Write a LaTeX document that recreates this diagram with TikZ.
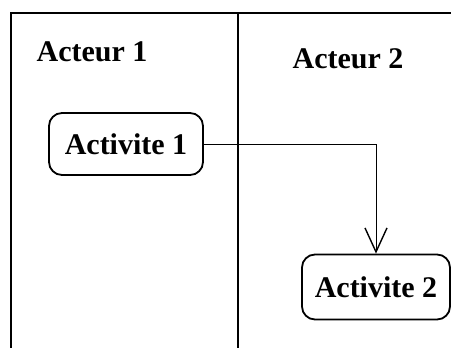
\documentclass[tikz,border=0pt]{standalone}
\usepackage{fontspec}
\setmainfont{Liberation Serif}
\usetikzlibrary{arrows.meta}
\begin{document}
\begin{tikzpicture}[x=1pt,y=-1pt,
  lane/.style={line width=1.8pt},
  actlabel/.style={font=\fontsize{30}{36}\selectfont\bfseries, inner sep=0pt},
  activity/.style={draw, line width=1.8pt, rounded corners=13pt, inner sep=0pt,
    font=\fontsize{30}{36}\selectfont\bfseries},
  flow/.style={line width=1pt, -{Straight Barb[length=24pt,width=22pt,line width=1.4pt]}}]
  \useasboundingbox (0,0) rectangle (451,348);
  % swimlane frame
  \draw[lane] (10,13) -- (451,13);
  \draw[lane] (11,13) -- (11,348);
  \draw[lane] (238,13) -- (238,348);
  % lane headers
  \node[actlabel] (h1) at (92,52) {Acteur 1};
  \node[actlabel] (h2) at (348,59) {Acteur 2};
  % activities
  \node[activity, minimum width=154pt, minimum height=62pt] (a1) at (126,144) {Activite 1};
  \node[activity, minimum width=148pt, minimum height=65pt] (a2) at (376,287) {Activite 2};
  % transition
  \draw[flow] (a1.east) -| (a2.north);
\end{tikzpicture}
\end{document}
